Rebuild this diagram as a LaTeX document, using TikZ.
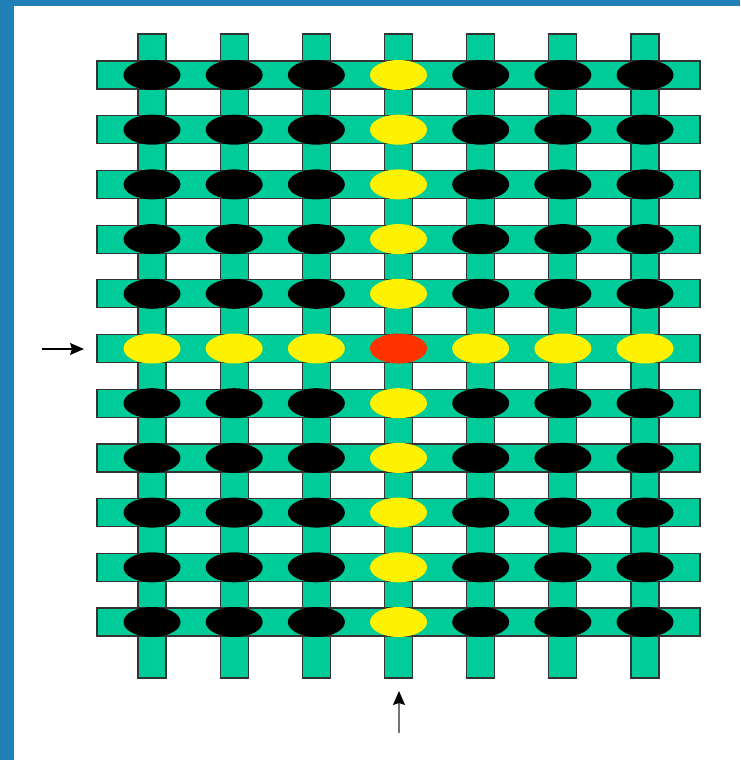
\documentclass[tikz,border=0pt]{standalone}
\usetikzlibrary{shapes.geometric,arrows.meta}
\definecolor{stripgreen}{RGB}{0,204,153}
\definecolor{frameblue}{RGB}{33,128,184}
\definecolor{hotred}{RGB}{255,51,0}
\tikzset{
  strip/.style={draw=black!80, line width=1.2pt, fill=stripgreen},
  dot/.style={ellipse, minimum width=57pt, minimum height=30pt, inner sep=0pt, draw=none},
  pointer/.style={line width=1.3pt, -{Stealth[length=14pt, width=12pt, inset=2pt, color=black]}},
}
\begin{document}
\begin{tikzpicture}[x=1pt, y=-1pt]
    % Page and blue frame
    \fill[white] (0,0) rectangle (740,760);
    \fill[frameblue] (0,0) rectangle (740,6);
    \fill[frameblue] (0,0) rectangle (14,760);
    \useasboundingbox (0,0) rectangle (740,760);

    % Vertical strips
    \foreach \c in {0,...,6}
        \draw[strip] ({152+82.17*\c-14},34) rectangle ({152+82.17*\c+14},678);

    % Horizontal strips
    \foreach \r in {0,...,10}
        \draw[strip] (97,{75+54.7*\r-14}) rectangle (700,{75+54.7*\r+14});

    % Crossing points (row 5 and column 3 selected)
    \foreach \r in {0,...,10}
        \foreach \c in {0,...,6} {
            \def\col{black}
            \ifnum\r=5 \def\col{yellow}\fi
            \ifnum\c=3 \def\col{yellow}\fi
            \ifnum\r=5 \ifnum\c=3 \def\col{hotred}\fi\fi
            \node[dot, fill=\col] (e-\r-\c) at ({152+82.17*\c},{75+54.7*\r}) {};
        }

    % Arrows
    \coordinate (rowin) at (42,349);
    \coordinate (rowtip) at (84,349);
    \coordinate (colin) at (399,733);
    \coordinate (coltip) at (399,691);
    \draw[pointer] (rowin) -- (rowtip);
    \draw[pointer, black!55] (colin) -- (coltip);
\end{tikzpicture}
\end{document}
